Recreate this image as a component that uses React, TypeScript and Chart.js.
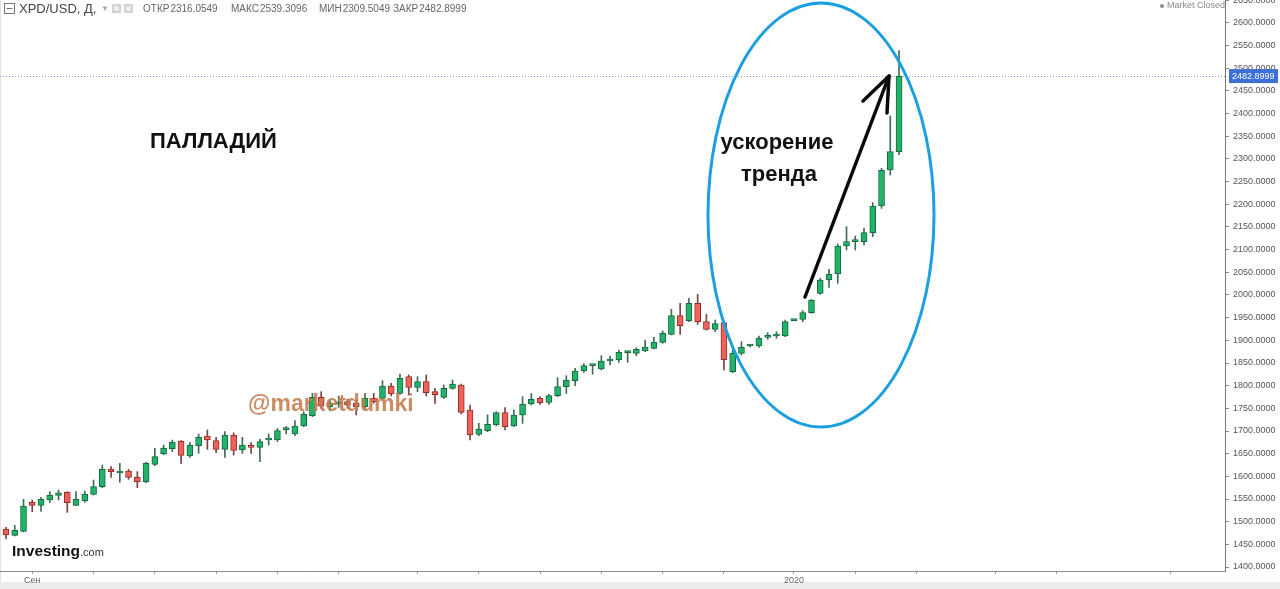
import React, { useEffect, useRef } from 'react';
import { Chart, registerables } from 'chart.js';

Chart.register(...registerables);

// Daily XPD/USD candles, late Aug 2019 – 17 Jan 2020 (index 0 = first candle)
const opens = [
  1483.8, 1469.8, 1478.7, 1542.6, 1536.0, 1547.8, 1558.1, 1564.7, 1536.0, 1546.3,
  1560.3, 1577.2, 1616.2, 1607.3, 1611.8, 1597.8, 1588.2, 1626.5, 1650.0, 1661.0,
  1677.2, 1644.8, 1667.6, 1689.0, 1678.7, 1659.5, 1690.5, 1658.1, 1666.9, 1663.9,
  1680.1, 1680.1, 1702.9, 1693.4, 1711.0, 1733.8, 1774.2, 1753.0, 1759.5, 1764.7,
  1761.0, 1753.7, 1772.0, 1772.0, 1799.2, 1783.0, 1819.9, 1796.3, 1808.8, 1786.7,
  1774.2, 1794.1, 1801.5, 1746.3, 1692.7, 1700.7, 1713.2, 1740.4, 1711.0, 1735.3,
  1759.6, 1772.0, 1763.2, 1778.0, 1797.8, 1811.0, 1832.4, 1844.1, 1836.8, 1854.4,
  1856.6, 1872.8, 1871.3, 1876.5, 1882.3, 1895.6, 1913.2, 1954.4, 1943.4, 1981.6,
  1941.2, 1924.3, 1939.0, 1830.9, 1871.3, 1887.5, 1887.5, 1906.6, 1909.6, 1909.6,
  1943.4, 1946.3, 1961.0, 2003.7, 2033.0, 2046.3, 2108.1, 2117.6, 2117.6, 2137.5,
  2196.3, 2275.7, 2316.05,
];
const highs = [
  1487.5, 1491.9, 1549.2, 1547.8, 1553.6, 1566.2, 1569.8, 1566.2, 1566.2, 1567.6,
  1591.9, 1625.0, 1621.3, 1628.7, 1615.4, 1610.3, 1631.6, 1661.7, 1669.1, 1680.1,
  1678.7, 1674.2, 1693.4, 1702.2, 1686.0, 1698.5, 1696.0, 1686.0, 1674.2, 1681.6,
  1693.4, 1705.9, 1709.5, 1722.8, 1742.6, 1783.0, 1786.7, 1770.0, 1777.2, 1770.0,
  1768.0, 1783.0, 1783.0, 1811.0, 1805.1, 1825.7, 1823.5, 1819.8, 1823.5, 1794.0,
  1801.5, 1812.5, 1803.7, 1757.3, 1716.9, 1735.3, 1742.6, 1751.5, 1746.3, 1775.7,
  1783.0, 1775.7, 1780.9, 1817.6, 1822.0, 1838.2, 1848.5, 1847.0, 1866.2, 1865.4,
  1878.7, 1876.5, 1883.8, 1900.7, 1906.6, 1920.6, 1968.4, 1981.6, 1992.7, 2001.5,
  1957.4, 1944.8, 1943.0, 1878.7, 1897.0, 1891.2, 1909.6, 1916.9, 1919.1, 1944.8,
  1946.3, 1965.5, 1990.5, 2036.8, 2056.6, 2112.5, 2150.7, 2130.1, 2147.0, 2203.7,
  2279.4, 2394.8, 2539.31,
];
const lows = [
  1461.8, 1468.4, 1477.2, 1522.0, 1522.8, 1541.9, 1547.8, 1520.6, 1535.3, 1542.6,
  1558.8, 1575.0, 1597.8, 1586.8, 1593.4, 1575.0, 1586.0, 1623.5, 1647.8, 1654.4,
  1628.7, 1641.9, 1650.7, 1659.5, 1652.2, 1641.9, 1647.0, 1650.7, 1650.7, 1632.3,
  1669.1, 1676.4, 1693.4, 1689.7, 1709.5, 1731.6, 1750.0, 1745.0, 1752.2, 1750.0,
  1735.3, 1750.0, 1761.0, 1769.8, 1777.2, 1780.9, 1779.4, 1786.7, 1777.2, 1761.0,
  1772.0, 1791.9, 1737.5, 1680.1, 1689.7, 1698.5, 1711.0, 1702.2, 1709.5, 1716.9,
  1757.3, 1758.8, 1758.8, 1775.7, 1783.0, 1800.0, 1829.4, 1825.0, 1834.6, 1845.6,
  1851.5, 1851.5, 1866.2, 1875.0, 1880.9, 1893.4, 1911.8, 1913.2, 1941.2, 1935.3,
  1922.8, 1919.1, 1834.6, 1828.7, 1867.6, 1885.3, 1884.5, 1902.2, 1904.4, 1908.1,
  1943.4, 1941.2, 1959.6, 2001.5, 2016.9, 2025.7, 2099.3, 2099.3, 2110.3, 2128.7,
  2191.2, 2264.7, 2309.50,
];
const closes = [
  1470.6, 1480.9, 1534.5, 1536.0, 1549.2, 1558.8, 1563.9, 1541.9, 1549.2, 1561.0,
  1577.2, 1616.2, 1610.3, 1611.8, 1597.8, 1588.2, 1628.7, 1643.4, 1662.5, 1675.7,
  1646.3, 1669.1, 1686.0, 1680.1, 1659.5, 1691.2, 1657.4, 1669.1, 1663.9, 1676.4,
  1682.3, 1700.7, 1705.0, 1711.0, 1736.7, 1774.2, 1755.0, 1762.0, 1762.5, 1757.3,
  1753.7, 1772.0, 1764.7, 1799.2, 1781.6, 1816.2, 1796.3, 1808.8, 1784.5, 1780.1,
  1794.1, 1803.7, 1741.2, 1691.2, 1704.4, 1714.7, 1740.4, 1709.5, 1735.3, 1759.6,
  1769.8, 1762.5, 1778.0, 1797.8, 1812.5, 1832.4, 1844.1, 1845.6, 1854.4, 1857.4,
  1873.5, 1875.0, 1880.1, 1885.3, 1896.3, 1915.4, 1954.4, 1932.4, 1981.6, 1941.2,
  1924.3, 1936.8, 1857.5, 1871.3, 1884.5, 1889.7, 1904.4, 1909.6, 1911.8, 1941.2,
  1946.3, 1961.0, 1989.0, 2033.0, 2046.3, 2108.1, 2117.6, 2121.3, 2137.5, 2196.3,
  2275.7, 2316.1, 2482.90,
];

// x-axis tick positions (candle index) and the only two printed labels
const xTickIndex = [3, 10, 17, 24, 31, 38, 47, 54, 61, 68, 75, 82, 90, 97, 104, 113, 120, 133];
const xTickLabels: Record<number, string> = { 3: 'Сен', 90: '2020' };

// axis ranges
const xMin = -0.685;
const xMax = 139.23;
const yMin = 1391.2;
const yMax = 2650.7;
const yStep = 50;

// header values of the last candle
const headerLabels = ['ОТКР', 'МАКС', 'МИН', 'ЗАКР'];
const headerValues = ['2316.0549', '2539.3096', '2309.5049', '2482.8999'];
const lastPriceLabel = '2482.8999';

const GREEN = '#22b36b';
const GREEN_BORDER = '#17683f';
const RED = '#f0615a';
const RED_BORDER = '#8f302b';

export default function App() {
  const canvasRef = useRef<HTMLCanvasElement | null>(null);

  useEffect(() => {
    const canvas = canvasRef.current;
    if (!canvas) return;
    const up = closes.map((c, i) => c >= opens[i]);

    const decor = {
      id: 'decor',
      beforeDraw(chart: any) {
        const { ctx, width, height } = chart;
        ctx.save();
        ctx.fillStyle = '#ffffff';
        ctx.fillRect(0, 0, width, height);
        // bottom scroll strip
        ctx.fillStyle = '#ececec';
        ctx.fillRect(0, 582, width, height - 582);
        // left border
        ctx.fillStyle = '#e2e2e2';
        ctx.fillRect(0, 0, 1, 582);
        ctx.restore();
      },
      beforeDatasetsDraw(chart: any) {
        const { ctx, chartArea } = chart;
        const y = chart.scales.y.getPixelForValue(closes[closes.length - 1]);
        ctx.save();
        ctx.strokeStyle = '#8c90e2';
        ctx.lineWidth = 1;
        ctx.setLineDash([1, 2]);
        ctx.beginPath();
        ctx.moveTo(chartArea.left, Math.round(y) + 0.5);
        ctx.lineTo(chartArea.right, Math.round(y) + 0.5);
        ctx.stroke();
        ctx.restore();
      },
      afterDraw(chart: any) {
        const { ctx, chartArea } = chart;
        const yScale = chart.scales.y;
        ctx.save();
        ctx.textBaseline = 'middle';

        // price box on the axis
        const py = yScale.getPixelForValue(closes[closes.length - 1]);
        ctx.fillStyle = '#3d6fd7';
        ctx.fillRect(chartArea.right + 4, py - 7, 49, 14);
        ctx.fillStyle = '#ffffff';
        ctx.font = '9px Arial, "Liberation Sans", sans-serif';
        ctx.textAlign = 'left';
        ctx.fillText(lastPriceLabel, chartArea.right + 7, py + 0.5);

        // header
        ctx.strokeStyle = '#777';
        ctx.lineWidth = 1;
        ctx.strokeRect(4.5, 3.5, 10, 10);
        ctx.beginPath();
        ctx.moveTo(6.5, 8.5);
        ctx.lineTo(12.5, 8.5);
        ctx.stroke();
        ctx.fillStyle = '#444';
        ctx.font = '13px Arial, "Liberation Sans", sans-serif';
        ctx.fillText('XPD/USD, Д,', 19, 9);
        ctx.fillStyle = '#aaa';
        ctx.font = '8px Arial, "Liberation Sans", sans-serif';
        ctx.fillText('▼', 101, 9);
        ctx.fillStyle = '#d4d4d4';
        ctx.fillRect(112, 4, 9, 9);
        ctx.fillRect(124, 4, 9, 9);
        ctx.fillStyle = '#f4f4f4';
        ctx.fillRect(114.5, 6.5, 4, 4);
        ctx.fillRect(126.5, 6.5, 4, 4);
        ctx.fillStyle = '#666';
        ctx.font = '10px Arial, "Liberation Sans", sans-serif';
        const hx = [143, 231, 319, 393];
        headerLabels.forEach((lab, i) => {
          ctx.fillText(lab, hx[i], 9);
          const w = ctx.measureText(lab).width;
          ctx.fillText(headerValues[i], hx[i] + w + 1, 9);
        });

        // Market Closed
        ctx.fillStyle = '#8a8a8a';
        ctx.beginPath();
        ctx.arc(1162, 6, 2, 0, Math.PI * 2);
        ctx.fill();
        ctx.font = '9px Arial, "Liberation Sans", sans-serif';
        ctx.fillText('Market Closed', 1167, 6);

        // title
        ctx.fillStyle = '#111';
        ctx.font = 'bold 22px Arial, "Liberation Sans", sans-serif';
        ctx.fillText('ПАЛЛАДИЙ', 150, 142);

        // watermark
        ctx.fillStyle = 'rgba(194, 124, 78, 0.88)';
        ctx.font = 'bold 23px Arial, "Liberation Sans", sans-serif';
        ctx.fillText('@marketdumki', 248, 405);

        // trend acceleration text
        ctx.fillStyle = '#111';
        ctx.font = 'bold 22px Arial, "Liberation Sans", sans-serif';
        ctx.textAlign = 'center';
        ctx.fillText('ускорение', 777, 143);
        ctx.fillText('тренда', 779, 175);
        ctx.textAlign = 'left';

        // ellipse
        ctx.strokeStyle = '#1a9fe0';
        ctx.lineWidth = 3;
        ctx.beginPath();
        ctx.ellipse(821, 215, 113, 212, 0, 0, Math.PI * 2);
        ctx.stroke();

        // arrow
        ctx.strokeStyle = '#0a0a0a';
        ctx.lineWidth = 3.5;
        ctx.lineCap = 'round';
        ctx.lineJoin = 'round';
        ctx.beginPath();
        ctx.moveTo(805, 297);
        ctx.lineTo(889, 76);
        ctx.stroke();
        ctx.beginPath();
        ctx.moveTo(863, 101);
        ctx.lineTo(889, 76);
        ctx.lineTo(887, 113);
        ctx.stroke();

        // Investing.com logo
        ctx.fillStyle = '#111';
        ctx.textBaseline = 'alphabetic';
        ctx.font = 'bold 15.5px Arial, "Liberation Sans", sans-serif';
        ctx.fillText('Investing', 12, 556);
        const iw = ctx.measureText('Investing').width;
        ctx.fillStyle = '#333';
        ctx.font = '11px Arial, "Liberation Sans", sans-serif';
        ctx.fillText('.com', 12 + iw, 556);
        ctx.restore();
      },
    };

    const chart = new Chart(canvas, {
      type: 'bar',
      data: {
        datasets: [
          {
            label: 'wick',
            data: lows.map((l, i) => ({ x: i, y: [l, highs[i]] })) as any,
            backgroundColor: up.map((u) => (u ? '#3f6d55' : '#7d4340')),
            borderWidth: 0,
            barThickness: 1,
            grouped: false,
            order: 2,
          } as any,
          {
            label: 'body',
            data: opens.map((o, i) => ({ x: i, y: [o, closes[i]] })) as any,
            backgroundColor: up.map((u) => (u ? GREEN : RED)),
            borderColor: up.map((u) => (u ? GREEN_BORDER : RED_BORDER)),
            borderWidth: 1,
            borderSkipped: false,
            barThickness: 6,
            minBarLength: 2,
            grouped: false,
            order: 1,
          } as any,
        ],
      },
      options: {
        animation: false,
        responsive: false,
        maintainAspectRatio: false,
        events: [],
        layout: { padding: 0 },
        plugins: { legend: { display: false }, tooltip: { enabled: false } },
        scales: {
          x: {
            type: 'linear',
            min: xMin,
            max: xMax,
            offset: false,
            grid: {
              display: true,
              offset: false,
              drawOnChartArea: false,
              drawTicks: true,
              tickLength: 3,
              color: '#9a9a9a',
            },
            border: { display: true, color: '#8c8c8c' },
            afterBuildTicks: (s: any) => {
              s.ticks = xTickIndex.map((v) => ({ value: v }));
            },
            ticks: {
              autoSkip: false,
              maxRotation: 0,
              padding: 1,
              color: '#666',
              font: { family: 'Arial, "Liberation Sans", sans-serif', size: 9 },
              callback: (v: any) => xTickLabels[Number(v)] ?? '',
            },
            afterFit: (s: any) => {
              s.height = 18;
              s.paddingLeft = 0;
              s.paddingRight = 0;
            },
          } as any,
          y: {
            type: 'linear',
            position: 'right',
            min: yMin,
            max: yMax,
            grid: { drawOnChartArea: false, tickLength: 4, color: '#888' },
            border: { display: true, color: '#777' },
            ticks: {
              stepSize: yStep,
              includeBounds: false,
              padding: 4,
              color: '#555',
              font: { family: 'Arial, "Liberation Sans", sans-serif', size: 9 },
              callback: (v: any) => Number(v).toFixed(4),
            },
            afterFit: (s: any) => {
              s.width = 55;
              s.paddingTop = 0;
              s.paddingBottom = 0;
            },
          } as any,
        },
      },
      plugins: [decor],
    });

    return () => chart.destroy();
  }, []);

  return (
    <div style={{ position: 'absolute', left: 0, top: 0, width: 1280, height: 589, background: '#fff', overflow: 'hidden' }}>
      <canvas ref={canvasRef} width={1280} height={589} style={{ display: 'block', width: 1280, height: 589 }} />
    </div>
  );
}
